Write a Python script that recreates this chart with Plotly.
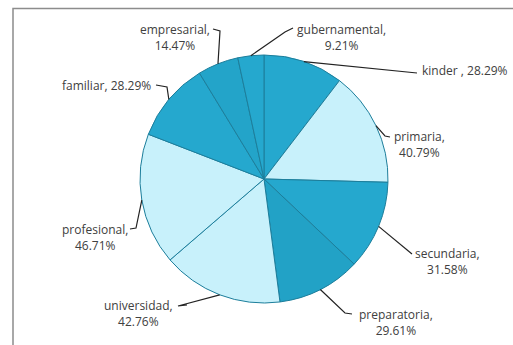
import math
import plotly.graph_objects as go

# Share of respondents per category (%), in clockwise order from 12 o'clock
categories = ["kinder", "primaria", "secundaria", "preparatoria", "universidad",
              "profesional", "familiar", "empresarial", "gubernamental"]
values = [28.29, 40.79, 31.58, 29.61, 42.76, 46.71, 28.29, 14.47, 9.21]
label_texts = ["kinder , 28.29%", "primaria,<br>40.79%", "secundaria,<br>31.58%",
               "preparatoria,<br>29.61%", "universidad,<br>42.76%", "profesional,<br>46.71%",
               "familiar, 28.29%", "empresarial,<br>14.47%", "gubernamental,<br>9.21%"]

DARK = "#25A8CE"
LIGHT = "#C8F1FB"
slice_colors = [DARK, LIGHT, DARK, "#22A2C6", LIGHT, LIGHT, DARK, "#23A4C9", DARK]

W, H = 513, 345
CX, CY, R = 264, 179, 124  # pie centre and radius in pixels


def px(x):
    return x / W


def py(y):
    return 1 - y / H


fig = go.Figure(go.Pie(
    labels=categories,
    values=values,
    sort=False,
    direction="clockwise",
    rotation=0,
    textinfo="none",
    hoverinfo="label+value",
    marker=dict(colors=slice_colors, line=dict(color="#1D7E9B", width=1)),
    domain=dict(x=[px(CX - R), px(CX + R)], y=[py(CY + R), py(CY - R)]),
    showlegend=False,
))

# Leader-line bends and label placement (pixels)
leader_paths = [
    [(417, 73)],
    [(385, 136), (390, 137)],
    [(412, 254)],
    [(345, 313), (352, 314)],
    [(178, 306), (187, 305)],
    [(136, 228), (130, 229)],
    [(167, 87), (156, 85)],
    [(220, 31), (213, 29)],
    [(285, 32), (293, 28)],
]
label_pos = [
    (420, 71, "left"), (419, 144, "center"), (447, 261, "center"),
    (396, 322, "center"), (138, 313, "center"), (95, 237, "center"),
    (153, 85, "right"), (175, 37, "center"), (341, 37, "center"),
]

total = sum(values)
shapes = []
annotations = []
cum = 0.0
for i, v in enumerate(values):
    mid = (cum + v / 2) / total * 2 * math.pi
    cum += v
    ex = CX + R * math.sin(mid)
    ey = CY - R * math.cos(mid)
    pts = [(ex, ey)] + leader_paths[i]
    path = "M " + " L ".join(f"{px(x)},{py(y)}" for x, y in pts)
    shapes.append(dict(type="path", xref="paper", yref="paper", path=path,
                       line=dict(color="#222222", width=1.2)))
    lx, ly, anchor = label_pos[i]
    annotations.append(dict(x=px(lx), y=py(ly), xref="paper", yref="paper",
                            text=label_texts[i], showarrow=False,
                            xanchor=anchor, yanchor="middle", align="center",
                            font=dict(family="Open Sans", size=12, color="#404040")))

# Chart frame
shapes.append(dict(type="rect", xref="paper", yref="paper",
                   x0=px(13), x1=px(520), y0=py(360), y1=py(8.5),
                   line=dict(color="#8C8C8C", width=1.5), fillcolor="rgba(0,0,0,0)",
                   layer="below"))

fig.update_layout(
    width=W, height=H,
    margin=dict(l=0, r=0, t=0, b=0),
    paper_bgcolor="white",
    plot_bgcolor="white",
    shapes=shapes,
    annotations=annotations,
)

fig.write_html("out.html")
